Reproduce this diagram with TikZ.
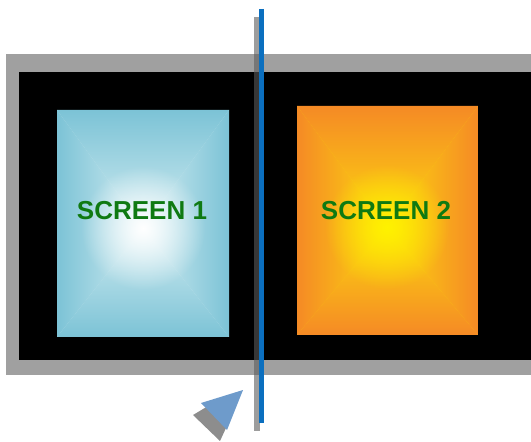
\documentclass[tikz,border=0pt]{standalone}
\usepackage{fontspec}
\setmainfont{Liberation Sans}
\usepackage{tikz}
\usetikzlibrary{fadings}
\definecolor{framegray}{HTML}{A0A0A0}
\definecolor{shadowgray}{HTML}{5C5C5C}
\definecolor{lineblue}{HTML}{0B6FBF}
\definecolor{camblue}{HTML}{6E9BCB}
\definecolor{labelgreen}{HTML}{0F7A12}
\definecolor{iceedge}{HTML}{7CC3D6}
\definecolor{icemid}{HTML}{D2ECF1}
\definecolor{orangeedge}{HTML}{F58A25}
\definecolor{orangemid}{HTML}{FCD80F}
\tikzfading[name=glowfade, inner color=transparent!0, outer color=transparent!100]
\tikzset{
	screenlabel/.style={font=\fontsize{14.8pt}{16pt}\selectfont\bfseries, text=labelgreen, inner sep=0pt},
}
% one screen: four shaded wedges meeting at the bright point
\newcommand{\screenwedges}[8]{%
	\fill[#8] (#1,#2) rectangle (#3,#4);
	\begin{scope}
		\clip (#1,#2) -- (#3,#2) -- (#5,#6) -- cycle;
		\shade[top color=#7, bottom color=#8] (#1,#2) rectangle (#3,#6);
	\end{scope}
	\begin{scope}
		\clip (#1,#4) -- (#3,#4) -- (#5,#6) -- cycle;
		\shade[bottom color=#7, top color=#8] (#1,#6) rectangle (#3,#4);
	\end{scope}
	\begin{scope}
		\clip (#1,#2) -- (#1,#4) -- (#5,#6) -- cycle;
		\shade[left color=#7, right color=#8] (#1,#2) rectangle (#5,#4);
	\end{scope}
	\begin{scope}
		\clip (#3,#2) -- (#3,#4) -- (#5,#6) -- cycle;
		\shade[right color=#7, left color=#8] (#5,#2) rectangle (#3,#4);
	\end{scope}
}
\begin{document}
\begin{tikzpicture}[x=0.02cm, y=-0.02cm]
	\useasboundingbox (0,0) rectangle (531,442);
	\fill[framegray] (6,54) rectangle (531,375);
	\fill[black] (19,72) rectangle (531,360);

	% screens
	\screenwedges{57}{110}{229}{337}{143}{228}{iceedge}{icemid}
	\begin{scope}
		\clip (57,110) rectangle (229,337);
		\fill[white, path fading=glowfade] (143,228) circle (62);
	\end{scope}
	\screenwedges{297}{106}{478}{335}{387}{227}{orangeedge}{orangemid}
	\begin{scope}
		\clip (297,106) rectangle (478,335);
		\fill[yellow, path fading=glowfade] (387,227) circle (62);
	\end{scope}
	\node[screenlabel] (label one) at (142,211) {SCREEN 1};
	\node[screenlabel] (label two) at (386,211) {SCREEN 2};

	% dividing line and its shadow
	\fill[shadowgray, opacity=0.6] (254,17) rectangle (260,431);
	\draw[lineblue, line width=0.1cm] (261.5,9) -- (261.5,423);

	% viewer
	\fill[shadowgray, opacity=0.7] (193,415) -- (208,406) -- (226,428) -- (220,441) -- cycle;
	\fill[camblue] (243,390) -- (201,403) -- (227,430) -- cycle;
\end{tikzpicture}
\end{document}
